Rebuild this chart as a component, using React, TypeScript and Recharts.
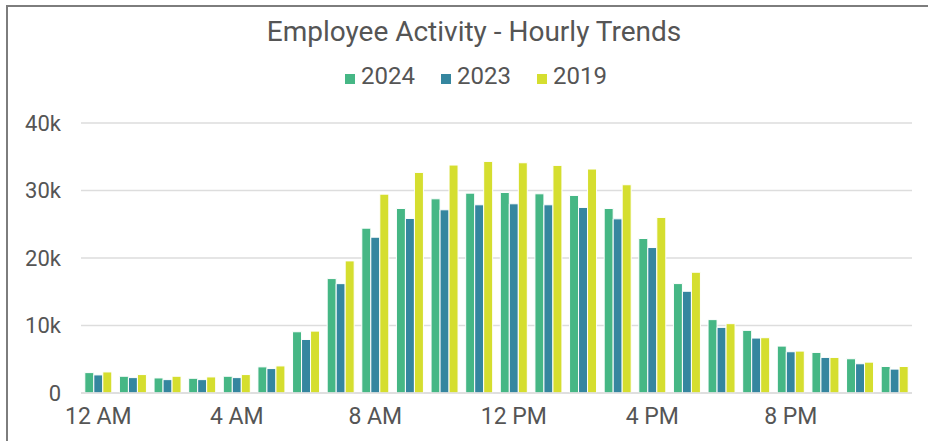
import React from 'react';
import { BarChart, Bar, XAxis, YAxis, CartesianGrid, Legend } from 'recharts';

const hours = [
  '12 AM', '1 AM', '2 AM', '3 AM', '4 AM', '5 AM', '6 AM', '7 AM', '8 AM', '9 AM', '10 AM', '11 AM',
  '12 PM', '1 PM', '2 PM', '3 PM', '4 PM', '5 PM', '6 PM', '7 PM', '8 PM', '9 PM', '10 PM', '11 PM',
];
const values2024 = [3020, 2480, 2230, 2180, 2480, 3870, 9070, 16950, 24420, 27340, 28770, 29610, 29710, 29510, 29270, 27340, 22890, 16210, 10870, 9280, 6950, 6010, 5070, 3930];
const values2023 = [2680, 2280, 1980, 1980, 2280, 3620, 7930, 16200, 23080, 25860, 27140, 27880, 28030, 27880, 27490, 25800, 21550, 15070, 9720, 8140, 6110, 5270, 4330, 3540];
const values2019 = [3120, 2730, 2480, 2380, 2730, 4010, 9170, 19570, 29460, 32680, 33770, 34310, 34110, 33720, 33180, 30850, 26010, 17890, 10270, 8190, 6210, 5270, 4570, 3930];
const seriesNames = ['2024', '2023', '2019'];
const yTicks = [0, 10000, 20000, 30000, 40000];
const title = 'Employee Activity - Hourly Trends';

const data = hours.map((h, i) => ({
  hour: h,
  y2024: values2024[i],
  y2023: values2023[i],
  y2019: values2019[i],
}));

const FONT = 'Roboto, "Noto Sans", sans-serif';
const TEXT = '#555555';

const renderLegend = (props: any) => {
  const payload = [...(props.payload || [])].sort(
    (a: any, b: any) => seriesNames.indexOf(String(a.value)) - seriesNames.indexOf(String(b.value)),
  );
  return (
    <div style={{ display: 'flex', justifyContent: 'center', alignItems: 'flex-end', fontFamily: FONT }}>
      {payload.map((p: any, i: number) => (
        <div key={i} style={{ display: 'flex', alignItems: 'flex-end', marginLeft: i === 0 ? 0 : 26 }}>
          <span style={{ display: 'inline-block', width: 10, height: 10, background: p.color, marginRight: 6, marginBottom: 4 }} />
          <span style={{ fontSize: 24, color: TEXT, lineHeight: '24px' }}>{p.value}</span>
        </div>
      ))}
    </div>
  );
};

export default function App() {
  return (
    <div style={{ position: 'fixed', left: 0, top: 0, width: 928, height: 441, background: '#fff', overflow: 'hidden' }}>
      <BarChart
        width={928}
        height={441}
        data={data}
        margin={{ top: 123, right: 16, left: 0, bottom: 8 }}
        barCategoryGap="11%"
        barGap={0}
      >
        <CartesianGrid vertical={false} stroke="#dddddd" strokeWidth={1.5} />
        <XAxis
          dataKey="hour"
          interval={3}
          tickLine={false}
          tickSize={0}
          tickMargin={15}
          height={40}
          axisLine={{ stroke: '#dddddd', strokeWidth: 1.5 }}
          tick={{ fill: TEXT, fontSize: 23, fontFamily: FONT }}
        />
        <YAxis
          domain={[0, 40000]}
          ticks={yTicks}
          width={81}
          axisLine={false}
          tickLine={false}
          tickSize={0}
          tickMargin={20}
          tickFormatter={(v: number) => (v === 0 ? '0' : `${v / 1000}k`)}
          tick={{ fill: TEXT, fontSize: 22, fontFamily: FONT }}
        />
        <Legend
          layout="horizontal"
          verticalAlign="middle"
          align="center"
          content={renderLegend}
          wrapperStyle={{ position: 'absolute', top: 64, left: 12, width: 928 }}
        />
        <Bar dataKey="y2024" name="2024" fill="#46b785" stroke="#ffffff" strokeWidth={1} isAnimationActive={false} />
        <Bar dataKey="y2023" name="2023" fill="#35869f" stroke="#ffffff" strokeWidth={1} isAnimationActive={false} />
        <Bar dataKey="y2019" name="2019" fill="#d5de2f" stroke="#ffffff" strokeWidth={1} isAnimationActive={false} />
      </BarChart>
      <div
        style={{
          position: 'absolute', left: 0, top: 15, width: 948, textAlign: 'center',
          fontFamily: FONT, fontSize: 28, color: TEXT, lineHeight: '34px',
        }}
      >
        {title}
      </div>
      <div
        style={{
          position: 'absolute', left: 6, top: 5, width: 940, height: 460,
          borderLeft: '2px solid #7d7d7d', borderTop: '2px solid #7d7d7d', pointerEvents: 'none',
        }}
      />
    </div>
  );
}
